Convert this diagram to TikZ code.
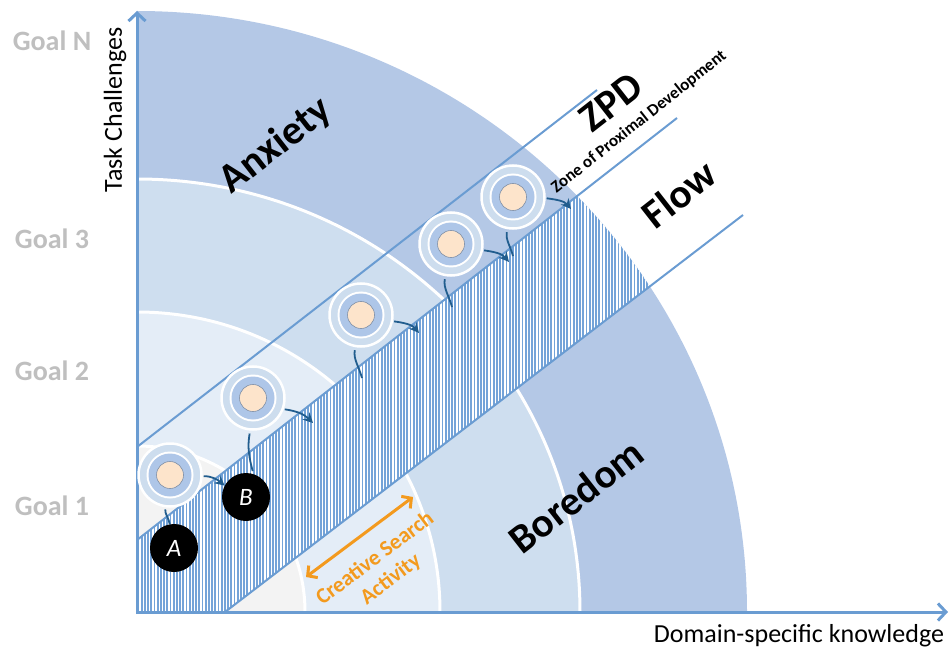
\documentclass[tikz,border=0pt]{standalone}
\usepackage{fontspec}
\setmainfont{Carlito}
\usetikzlibrary{arrows.meta}
\definecolor{bandA}{HTML}{B4C8E6}
\definecolor{bandB}{HTML}{CEDEEF}
\definecolor{bandC}{HTML}{E4EDF7}
\definecolor{bandD}{HTML}{F3F3F3}
\definecolor{axisblue}{HTML}{6A9CD2}
\definecolor{hatchblue}{HTML}{74A3D8}
\definecolor{ringblue}{HTML}{AEC6E8}
\definecolor{ringlight}{HTML}{CDDDEE}
\definecolor{peach}{HTML}{FDE4CB}
\definecolor{peachline}{HTML}{8090A8}
\definecolor{arrowblue}{HTML}{215D8E}
\definecolor{orangetxt}{HTML}{F39A1E}
\definecolor{goalgrey}{HTML}{BFBFBF}
\begin{document}
\begin{tikzpicture}[x=1pt,y=-1pt,
  axisline/.style={axisblue, line width=3pt, -{Straight Barb[length=8pt,width=17pt,line width=3pt]}},
  diagline/.style={axisblue, line width=2pt},
  hatchline/.style={hatchblue, line width=1.7pt},
  target/.style={circle, minimum size=63pt, inner sep=0pt, fill=ringlight, draw=white, line width=2.5pt,
    path picture={
      \fill[white] (path picture bounding box.center) circle (23.5pt);
      \fill[ringblue] (path picture bounding box.center) circle (21.5pt);
      \filldraw[fill=peach, draw=peachline, line width=0.6pt] (path picture bounding box.center) circle (13.5pt);
    }},
  ball/.style={circle, fill=black, minimum size=48pt, inner sep=0pt, text=white,
    font=\itshape\fontsize{25}{25}\selectfont},
  flowarrow/.style={arrowblue, line width=1.8pt, -{Stealth[length=10pt,width=10pt,inset=3.5pt]}},
  flowline/.style={arrowblue, line width=1.8pt},
  goal/.style={text=goalgrey, font=\bfseries\fontsize{28}{28}\selectfont},
  axislabel/.style={font=\fontsize{26}{26}\selectfont},
  zone/.style={rotate=38, font=\bfseries\fontsize{41}{41}\selectfont},
  orangearrow/.style={orangetxt, line width=3pt, {Straight Barb[length=7pt,width=15pt,line width=3pt]}-{Straight Barb[length=7pt,width=15pt,line width=3pt]}}
]
\useasboundingbox (0,0) rectangle (950,652);

% bands
\begin{scope}
  \clip (137,0) rectangle (950,612);
  \fill[bandA] (137,612) ellipse [x radius=610, y radius=601];
  \filldraw[fill=bandB, draw=white, line width=3pt] (137,612) ellipse [x radius=443, y radius=433];
  \filldraw[fill=bandC, draw=white, line width=3pt] (137,612) ellipse [x radius=303, y radius=300];
  \filldraw[fill=bandD, draw=white, line width=3pt] (137,612) ellipse [x radius=168, y radius=166];
\end{scope}

% hatched flow channel
\begin{scope}
  \clip (137,612) ellipse [x radius=610, y radius=601];
  \clip (137,540) -- (677,118) -- (743,215) -- (225,612) -- (137,612) -- cycle;
  \fill[white] (137,100) rectangle (760,612);
  \foreach \x in {138.5,141.7,...,750} \draw[hatchline] (\x,100) -- (\x,612);
\end{scope}

% diagonal lines
\draw[diagline] (137,447) -- (597,90);
\draw[diagline] (137,540) -- (677,118);
\draw[diagline] (225,612) -- (743,215);

% axes
\coordinate (O) at (137,612);
\coordinate (Ytip) at (137,11);
\coordinate (Xtip) at (948,612);
\draw[axisline] (137,614) -- (Ytip);
\draw[axisline] (O) -- (Xtip);

% targets
\node[target] (t1) at (170,475) {};
\node[target] (t2) at (253,398) {};
\node[target] (t3) at (361,315) {};
\node[target] (t4) at (451,244) {};
\node[target] (t5) at (513,197) {};

\node[ball] (A) at (174,548) {A};
\node[ball] (B) at (246,497) {B};

% free ends
\coordinate (e2) at (313,423);
\coordinate (e3) at (419,333);
\coordinate (e4) at (509,262);
\coordinate (e5) at (571,209);
\coordinate (b3) at (362,378);
\coordinate (b4) at (452,307);
\coordinate (b5) at (513,256);

% right arrows
\draw[flowarrow, shorten <=1pt] (t1.-2) to[out=0,in=140] (B.152);
\draw[flowarrow, shorten <=1pt] (t2.-20) to[out=-8,in=135] (e2);
\draw[flowarrow, shorten <=1pt] (t3.-11) to[out=-8,in=130] (e3);
\draw[flowarrow, shorten <=1pt] (t4.-11) to[out=-8,in=130] (e4);
\draw[flowarrow, shorten <=1pt] (t5.-2) to[out=-8,in=130] (e5);

% bottom curves
\draw[flowline, shorten <=2pt] (t1.262) to[out=-95,in=100] (A.100);
\draw[flowline, shorten <=3pt, shorten >=3pt] (t2.265) to[out=-100,in=105] (B.72);
\draw[flowline, shorten <=3pt] (t3.260) to[out=-100,in=105] (b3);
\draw[flowline, shorten <=3pt] (t4.260) to[out=-100,in=105] (b4);
\draw[flowline, shorten <=3pt] (t5.260) to[out=-100,in=105] (b5);

% creative search arrow
\coordinate (cs1) at (306,577);
\coordinate (cs2) at (413,497);
\draw[orangearrow] (cs1) -- (cs2);

% labels
\node[goal] (gN) at (52,41) {Goal N};
\node[goal] (g3) at (52,239) {Goal 3};
\node[goal] (g2) at (52,371) {Goal 2};
\node[goal] (g1) at (52,506) {Goal 1};
\node[axislabel, rotate=90] (tc) at (115,110) {Task Challenges};
\node[axislabel] (dk) at (799,636) {Domain-specific knowledge};

\node[zone] (anx) at (276,146) {Anxiety};
\node[zone] (zpd) at (611,102) {ZPD};
\node[zone] (flow) at (679,194) {Flow};
\node[zone] (bor) at (576,496) {Boredom};
\node[rotate=38.5, font=\bfseries\fontsize{17}{17}\selectfont] (zn) at (639,122) {Zone of Proximal Development};
\node[rotate=37, align=center, text=orangetxt, font=\bfseries\fontsize{22}{26}\selectfont] (csa) at (383,569) {Creative Search\\Activity};
\end{tikzpicture}
\end{document}
